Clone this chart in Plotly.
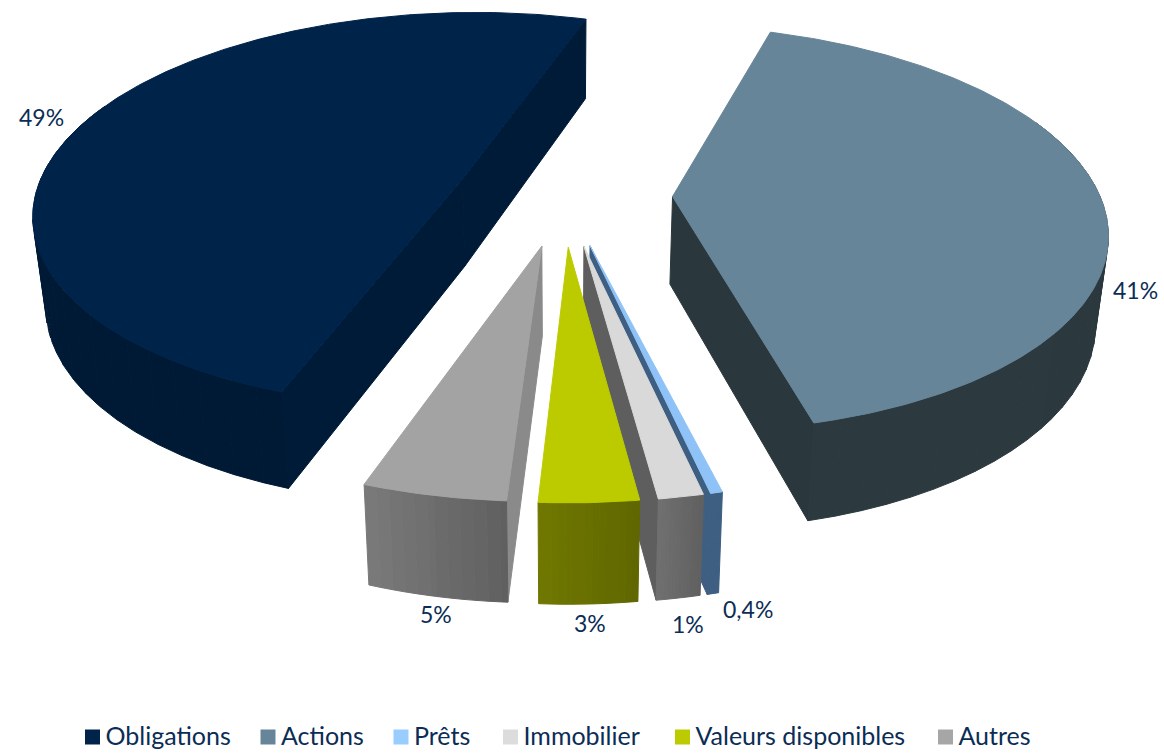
import numpy as np
import plotly.graph_objects as go

# ---- data ----
categories = ["Obligations", "Actions", "Prêts", "Immobilier", "Valeurs disponibles", "Autres"]
values = [49.49, 41.25, 0.37, 1.39, 3.06, 4.44]
data_labels = ["49%", "41%", "0,4%", "1%", "3%", "5%"]
label_x = [41, 1135, 748, 688, 590, 436]
label_y = [117, 290, 609, 624, 623, 614]
legend_x = [92.5, 268, 401, 510.5, 682.5, 945.5]
LEGEND_Y = 737

# ---- styles ----
top_colors = ["#00234a", "#668599", "#8fc3f8", "#d9d9d9", "#bccb00", "#a3a3a3"]
legend_colors = ["#00234a", "#668599", "#99ccff", "#dcdcdc", "#bccb00", "#a6a6a6"]
wall_start = ["#001a36", "#2a373c", "#3f5f82", "#606060", "#5f6600", "#5f5f5f"]
wall_end = ["#001a36", "#2c3a40", "#3f5f82", "#707070", "#707800", "#7a7a7a"]
radial_colors = ["#001b38", "#2a373c", "#3f5f82", "#5e5e5e", "#5f6600", "#8a8a8a"]
draw_order = [0, 1, 2, 3, 4, 5]
TEXT = "#0b2d55"

# ---- projection parameters ----
CX, CY = 564, 195
RX, RY = 427, 197.5
PERSP = 0.156
EXPLODE = 0.254
START_DEG = 17.5
HEIGHT = 87.5
BOTTOM_SCALE = 0.976


def project(a, b, bottom=False):
    w = 1 - PERSP * b
    x, y = RX * a / w, RY * b / w
    if bottom:
        return CX + x * BOTTOM_SCALE, CY + y * BOTTOM_SCALE + HEIGHT / w
    return CX + x, CY + y


def mix(c1, c2, t):
    p = [int(c1[i:i + 2], 16) for i in (1, 3, 5)]
    q = [int(c2[i:i + 2], 16) for i in (1, 3, 5)]
    return "rgb(%d,%d,%d)" % tuple(round(u + (v - u) * t) for u, v in zip(p, q))


def area(xs, ys):
    xs, ys = np.asarray(xs), np.asarray(ys)
    return 0.5 * np.sum(xs * np.roll(ys, -1) - np.roll(xs, -1) * ys)


def poly(fig, xs, ys, color):
    fig.add_trace(go.Scatter(
        x=list(xs) + [xs[0]], y=list(ys) + [ys[0]], mode="lines", fill="toself",
        fillcolor=color, line=dict(color=color, width=1),
        hoverinfo="skip", showlegend=False))


fig = go.Figure()
total = sum(values)
spans = [v / total * 360 for v in values]
starts = [START_DEG - spans[0]]
for s in spans[:-1]:
    starts.append(starts[-1] + s)

for i in draw_order:
    t0, t1 = np.radians(starts[i]), np.radians(starts[i] + spans[i])
    mid = (t0 + t1) / 2
    ox, oy = EXPLODE * np.sin(mid), -EXPLODE * np.cos(mid)
    th = np.linspace(t0, t1, max(13, int(spans[i] * 1.5)))
    aa, bb = ox + np.sin(th), oy - np.cos(th)

    # radial walls: only the ones that face the viewer
    for t, sign in ((t0, 1), (t1, -1)):
        a1, b1 = ox + np.sin(t), oy - np.cos(t)
        tx0, ty0 = project(ox, oy)
        tx1, ty1 = project(a1, b1)
        bx1, by1 = project(a1, b1, True)
        bx0, by0 = project(ox, oy, True)
        if sign * area([tx0, tx1, bx1, bx0], [ty0, ty1, by1, by0]) < 0:
            poly(fig, [tx0, tx1, bx1, bx0], [ty0, ty1, by1, by0], radial_colors[i])

    # outer wall, in bands for the shading
    n_band = 12 if spans[i] < 60 else 45
    edges = np.linspace(0, len(th) - 1, n_band + 1).astype(int)
    for k in range(n_band):
        j0, j1 = edges[k], edges[k + 1]
        if j1 <= j0 or np.all(-np.cos(th[j0:j1 + 1]) < -0.35):
            continue
        tx, ty = project(aa[j0:j1 + 1], bb[j0:j1 + 1])
        bx, by = project(aa[j0:j1 + 1], bb[j0:j1 + 1], True)
        poly(fig, np.concatenate([tx, bx[::-1]]), np.concatenate([ty, by[::-1]]),
             mix(wall_start[i], wall_end[i], (k + 0.5) / n_band))

    # top
    xs, ys = project(np.r_[ox, aa], np.r_[oy, bb])
    poly(fig, xs, ys, top_colors[i])

for name, col, lx in zip(categories, legend_colors, legend_x):
    fig.add_trace(go.Scatter(
        x=[lx], y=[LEGEND_Y], mode="markers", name=name, showlegend=False, hoverinfo="name",
        marker=dict(symbol="square", size=15, color=col)))
    fig.add_trace(go.Scatter(
        x=[lx + 13], y=[LEGEND_Y + 2], mode="text", text=[name], textposition="middle right",
        showlegend=False, hoverinfo="skip",
        textfont=dict(family="Lato", size=25, color=TEXT)))

for x, y, t in zip(label_x, label_y, data_labels):
    fig.add_annotation(x=x, y=y, text=t, showarrow=False,
                       font=dict(family="Lato", size=23, color=TEXT))

fig.update_layout(
    width=1164, height=753, margin=dict(l=0, r=0, t=0, b=0),
    paper_bgcolor="white", plot_bgcolor="white", showlegend=False,
    xaxis=dict(range=[0, 1164], visible=False, fixedrange=True),
    yaxis=dict(range=[753, 0], visible=False, fixedrange=True),
    font=dict(family="Lato", size=23, color=TEXT),
)
fig.write_html("out.html", config={"displayModeBar": False},
               post_script="document.body.style.margin='0';document.documentElement.style.overflow='hidden';")
